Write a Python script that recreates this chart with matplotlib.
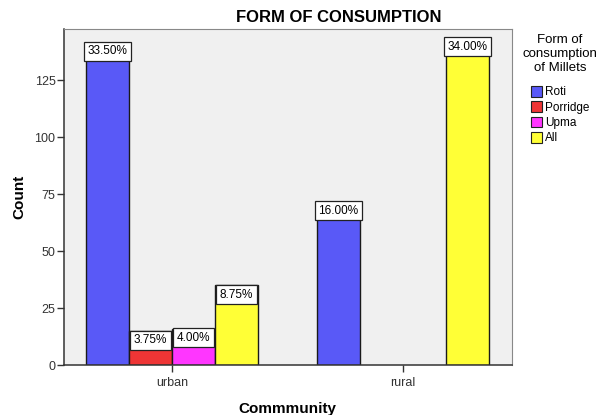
import numpy as np
import matplotlib.pyplot as plt
from matplotlib.patches import Patch

plt.rcParams['font.family'] = ['Liberation Sans', 'DejaVu Sans']

# data (counts out of 400 respondents)
communities = ['urban', 'rural']
forms = ['Roti', 'Porridge', 'Upma', 'All']
counts = {
    'Roti': [134, 64],
    'Porridge': [15, 0],
    'Upma': [16, 0],
    'All': [35, 136],
}
pct_labels = {
    'Roti': ['33.50%', '16.00%'],
    'Porridge': ['3.75%', None],
    'Upma': ['4.00%', None],
    'All': ['8.75%', '34.00%'],
}
colors = ['#5959F7', '#EE3535', '#FF36FF', '#FFFF36']

fig = plt.figure(figsize=(6.02, 4.15), dpi=100)
ax = fig.add_axes([0.106, 0.120, 0.744, 0.810])
ax.set_facecolor('#F0F0F0')

x = np.arange(len(communities))
w = 0.186
for i, (f, c) in enumerate(zip(forms, colors)):
    off = (i - 1.5) * w
    for j in range(len(communities)):
        v = counts[f][j]
        if v == 0:
            continue
        ax.bar(x[j] + off, v, width=w, color=c, edgecolor='#1a1a1a', linewidth=1.0, zorder=2)
        lab = pct_labels[f][j]
        if v > 50:
            ax.text(x[j] + off, v + 1.2, lab, ha='center', va='bottom', fontsize=8.5,
                    bbox=dict(boxstyle='square,pad=0.3', fc='white', ec='#222222', lw=0.9), zorder=3)
        else:
            ax.text(x[j] + off, v - 1.4, lab, ha='center', va='top', fontsize=8.5,
                    bbox=dict(boxstyle='square,pad=0.3', fc='white', ec='#222222', lw=0.9), zorder=3)

ax.set_xlim(-0.468, 1.472)
ax.set_ylim(0, 147.5)
ax.set_yticks([0, 25, 50, 75, 100, 125])
ax.set_xticks(x)
ax.set_xticklabels(communities)
ax.tick_params(axis='both', direction='out', length=5, width=1, colors='#333333', labelsize=9)
ax.tick_params(axis='y', pad=1)
for s in ['top', 'right']:
    ax.spines[s].set_color('#888888')
for s in ['left', 'bottom']:
    ax.spines[s].set_color('#333333')
    ax.spines[s].set_linewidth(1.1)

ax.set_ylabel('Count', fontsize=11, fontweight='bold', labelpad=6)
ax.set_xlabel('Commmunity', fontsize=11, fontweight='bold', labelpad=9)
fig.text(0.563, 0.957, 'FORM OF CONSUMPTION', ha='center', va='center', fontsize=12, fontweight='bold')

handles = [Patch(facecolor=c, edgecolor='#222222', linewidth=0.8) for c in colors]
leg = fig.legend(handles, forms, loc='upper center', bbox_to_anchor=(0.930, 0.935),
                 title='Form of\nconsumption\nof Millets', fontsize=8.5, title_fontsize=9.5,
                 frameon=False, handlelength=1.0, handleheight=1.0, handletextpad=0.2,
                 labelspacing=0.25, borderpad=0.1)
leg.get_title().set_multialignment('center')
leg._legend_box.sep = 9

fig.savefig('out.png', dpi=100)
